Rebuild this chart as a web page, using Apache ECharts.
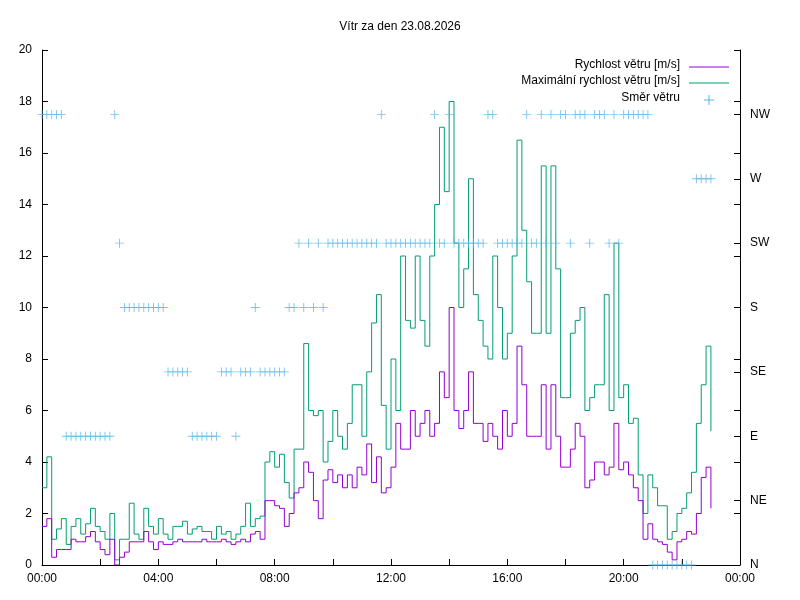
<!DOCTYPE html>
<html>
<head>
<meta charset="utf-8">
<script src="https://cdn.jsdelivr.net/npm/echarts@6/dist/echarts.min.js"></script>
<style>html,body{margin:0;background:#fff}#chart{width:800px;height:600px}</style>
</head>
<body>
<div id="chart"></div>
<script>
// samples every 10 minutes from 00:00
var stepMinutes = 10;
var speed = [
    1.5,1.8,0.3,0.6,0.6,0.6,
    1.0,0.9,0.9,1.1,1.3,0.9,
    0.6,0.4,1.0,0.0,0.3,0.5,
    0.9,0.9,0.9,1.3,0.9,0.6,
    0.9,0.8,0.8,0.9,1.0,0.9,
    0.9,0.9,0.9,1.0,0.9,0.9,
    0.9,1.0,0.9,0.8,0.9,1.0,
    0.9,1.2,1.3,1.0,2.5,2.5,
    2.3,2.2,1.5,2.0,2.8,3.0,
    4.0,3.6,2.5,1.8,3.3,3.7,
    3.2,3.5,3.0,3.5,3.0,3.8,
    3.5,4.7,3.2,4.2,2.8,3.0,
    3.8,5.5,4.5,4.5,6.0,5.0,
    5.5,6.0,5.0,5.5,7.5,6.5,
    10.0,6.0,5.3,6.0,7.5,5.5,
    5.5,4.8,5.5,5.0,4.5,6.0,
    5.0,5.5,8.5,7.0,5.0,5.0,
    5.0,7.0,4.5,7.0,5.0,3.8,
    3.8,4.5,5.5,5.0,3.0,3.3,
    4.0,4.0,3.5,3.8,5.5,3.7,
    4.0,3.5,3.0,2.5,1.0,1.6,
    1.0,0.9,0.8,0.5,0.2,0.9,
    1.0,1.3,1.2,2.0,3.4,3.8,
    2.2
];
var maxSpeed = [
    3.0,4.2,1.0,1.4,1.8,0.8,
    1.5,1.8,1.2,1.6,2.2,1.5,
    1.3,1.0,2.0,0.2,1.0,1.0,
    2.4,1.2,1.0,2.2,1.5,1.2,
    1.8,1.2,1.0,1.5,1.5,1.7,
    1.2,1.4,1.5,1.3,1.3,1.0,
    1.5,1.2,1.3,1.0,1.2,1.5,
    2.4,1.5,1.8,1.9,4.0,4.4,
    3.8,4.3,3.2,2.6,4.5,4.5,
    8.6,6.0,5.8,6.0,4.0,4.8,
    6.0,5.0,4.5,5.5,7.0,7.0,
    5.0,7.5,9.4,10.5,6.2,4.5,
    8.0,6.0,12.0,9.5,9.2,12.0,
    9.5,8.5,12.0,14.0,17.0,14.5,
    18.0,12.5,10.0,11.5,15.0,10.5,
    9.5,8.5,8.0,12.0,10.0,8.0,
    9.0,12.0,16.5,13.0,11.0,9.0,
    9.0,15.5,9.0,15.5,11.5,6.5,
    6.5,9.0,9.5,10.0,6.0,6.5,
    7.0,7.0,10.5,6.0,12.5,6.5,
    7.0,5.5,5.7,3.5,2.0,3.5,
    3.0,2.3,2.3,1.0,1.3,2.0,
    2.2,2.8,3.6,5.5,7.0,8.5,
    5.2
];
// 0=N 1=NE 2=E 3=SE 4=S 5=SW 6=W 7=NW
var direction = [
    7,7,7,7,7,2, 2,2,2,2,2,2, 2,2,2,7,5,4, 4,4,4,4,4,4,
    4,4,3,3,3,3, 3,2,2,2,2,2, 2,3,3,3,2,3, 3,3,4,3,3,3,
    3,3,3,4,4,5, 4,5,4,5,4,5, 5,5,5,5,5,5, 5,5,5,5,7,5,
    5,5,5,5,5,5, 5,5,5,7,5,5, 7,5,5,5,5,5, 5,5,7,7,5,5,
    5,5,5,5,7,5, 5,7,5,7,5,7, 7,5,7,7,7,5, 7,7,7,5,7,5,
    7,7,7,7,7,7, 0,0,0,0,0,0, 0,0,0,6,6,6, 6
];
var dirNames = ['N', 'NE', 'E', 'SE', 'S', 'SW', 'W', 'NW'];
var title = 'Vítr za den 23.08.2026';

function pairs(arr, f) {
    return arr.map(function (v, i) { return [i * stepMinutes / 60, f ? f(v) : v]; });
}
function hhmm(h) {
    h = Math.round(h) % 24;
    return (h < 10 ? '0' : '') + h + ':00';
}

var font = 'Liberation Sans, Arial, sans-serif';
var cSpeed = '#9400d3', cMax = '#009e73', cDir = '#56b4e9';
var legendRows = [['Rychlost větru [m/s]', cSpeed, 67], ['Maximální rychlost větru [m/s]', cMax, 83], ['Směr větru', cDir, 100]];
var graphics = [];
legendRows.forEach(function (r, i) {
    graphics.push({ type: 'text', right: 800 - 680, top: r[2] - 8, style: { text: r[0], fill: '#000', font: '12px ' + font, textAlign: 'right' } });
    if (i < 2) {
        graphics.push({ type: 'line', shape: { x1: 689, y1: r[2], x2: 729, y2: r[2] }, style: { stroke: r[1], lineWidth: 1 } });
    } else {
        graphics.push({ type: 'line', shape: { x1: 704, y1: r[2], x2: 714, y2: r[2] }, style: { stroke: r[1], lineWidth: 1 } });
        graphics.push({ type: 'line', shape: { x1: 709, y1: r[2] - 5, x2: 709, y2: r[2] + 5 }, style: { stroke: r[1], lineWidth: 1 } });
    }
});

var chart = echarts.init(document.getElementById('chart'));
chart.setOption({
    animation: false,
    backgroundColor: '#fff',
    textStyle: { fontFamily: font },
    title: { text: title, left: 'center', top: 16, textStyle: { fontSize: 12, fontWeight: 'normal', color: '#000', fontFamily: font } },
    grid: { left: 42, right: 60, top: 50, bottom: 35 },
    graphic: graphics,
    xAxis: {
        type: 'value', min: 0, max: 24, interval: 2,
        axisLine: { lineStyle: { color: '#000' } },
        axisTick: { inside: true, length: 6, lineStyle: { color: '#000' } },
        splitLine: { show: false },
        axisLabel: { color: '#000', fontSize: 12, margin: 8, formatter: function (v) { return v % 4 === 0 ? hhmm(v) : ''; } }
    },
    yAxis: [{
        type: 'value', min: 0, max: 20, interval: 2,
        axisLine: { show: true, lineStyle: { color: '#000' } },
        axisTick: { show: true, inside: true, length: 6, lineStyle: { color: '#000' } },
        splitLine: { show: false },
        axisLabel: { color: '#000', fontSize: 12, margin: 10 }
    }, {
        type: 'value', min: 0, max: 20, interval: 2.5, position: 'right',
        axisLine: { show: true, lineStyle: { color: '#000' } },
        axisTick: { show: true, inside: true, length: 6, lineStyle: { color: '#000' } },
        splitLine: { show: false },
        axisLabel: { color: '#000', fontSize: 12, margin: 10, formatter: function (v) { return dirNames[Math.round(v / 2.5)] || ''; } }
    }, {
        type: 'value', min: 0, max: 20, interval: 2, position: 'right',
        axisLine: { show: false }, axisLabel: { show: false }, splitLine: { show: false },
        axisTick: { show: true, inside: true, length: 6, lineStyle: { color: '#000' } }
    }],
    series: [{
        name: 'Rychlost větru [m/s]', type: 'line', step: 'end', showSymbol: false,
        lineStyle: { color: cSpeed, width: 1 }, data: pairs(speed), z: 3
    }, {
        name: 'Maximální rychlost větru [m/s]', type: 'line', step: 'end', showSymbol: false,
        lineStyle: { color: cMax, width: 1 }, data: pairs(maxSpeed), z: 2
    }, {
        name: 'Směr větru', type: 'scatter', yAxisIndex: 1,
        symbol: 'path://M0,4.5H10V5.5H0Z M4.5,0H5.5V10H4.5Z', symbolSize: 9,
        itemStyle: { color: cDir }, data: pairs(direction, function (d) { return d * 2.5; }), z: 4
    }]
});
</script>
</body>
</html>
